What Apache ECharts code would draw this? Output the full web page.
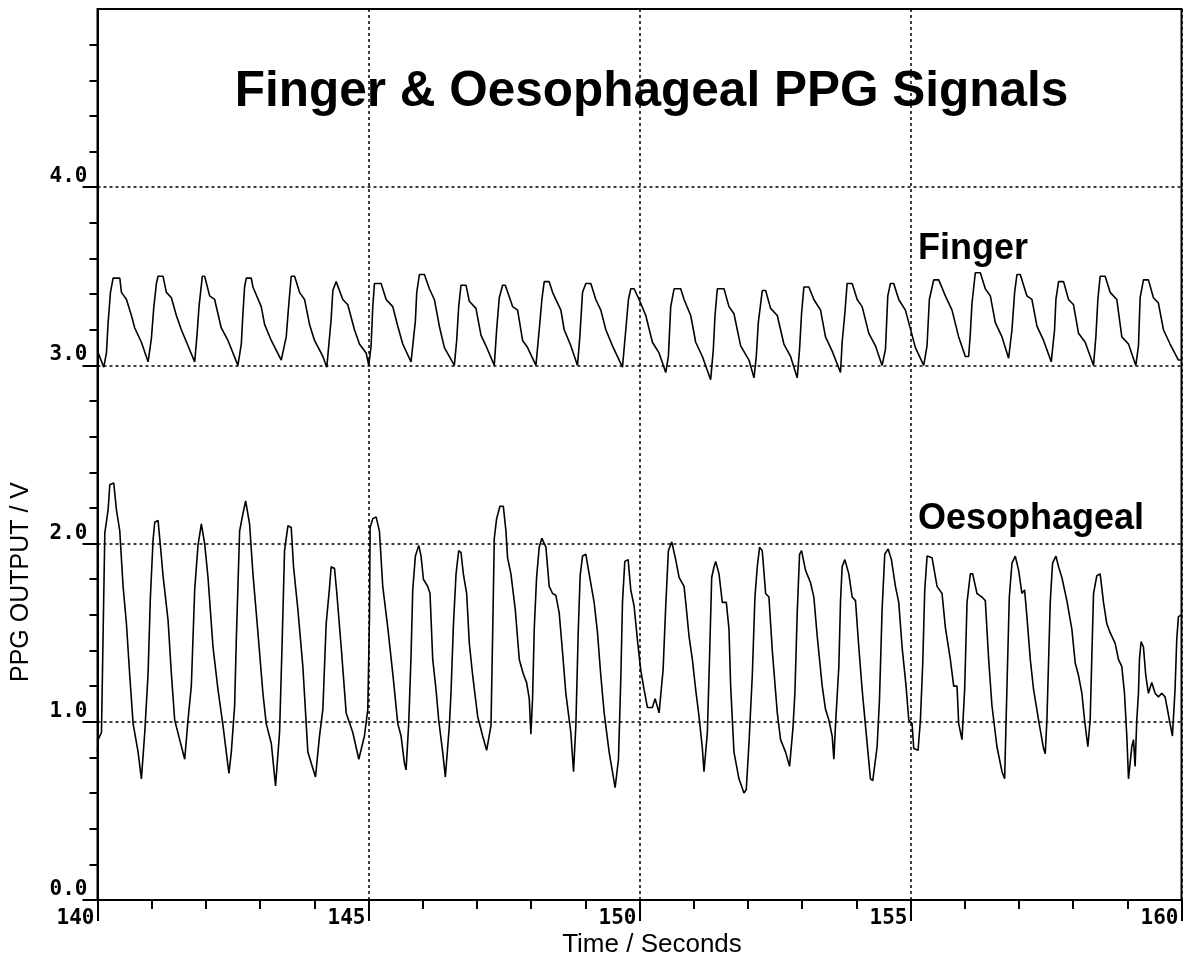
<!DOCTYPE html>
<html>
<head>
<meta charset="utf-8">
<script src="https://cdn.jsdelivr.net/npm/echarts@6/dist/echarts.min.js"></script>
<style>
  html, body { margin: 0; padding: 0; background: #fff; }
  #chart { width: 1188px; height: 958px; }
</style>
</head>
<body>
<div id="chart"></div>
<script>
// axis ranges
const xRange = [140, 160]
const yRange = [0, 5]
// labelled y ticks (the top of the frame carries none)
const yTicks = [0, 1, 2, 3, 4]

// finger PPG trace, [time (s), output (V)]
const fingerSignal = [
  [140.000, 3.08], [140.116, 2.99], [140.165, 3.07], [140.196, 3.24], [140.239, 3.41], [140.288, 3.49], [140.411, 3.49], [140.442, 3.41], [140.534, 3.37], [140.626, 3.28], [140.687, 3.21], [140.810, 3.13], [140.933, 3.02], [140.964, 3.02],
  [140.994, 3.15], [141.037, 3.32], [141.087, 3.46], [141.117, 3.50], [141.209, 3.50], [141.271, 3.41], [141.363, 3.38], [141.455, 3.28], [141.547, 3.20], [141.670, 3.11], [141.793, 3.02],
  [141.836, 3.17], [141.873, 3.33], [141.934, 3.50], [141.977, 3.50], [142.069, 3.39], [142.161, 3.37], [142.284, 3.21], [142.407, 3.14], [142.591, 3.00],
  [142.653, 3.12], [142.683, 3.29], [142.714, 3.44], [142.745, 3.49], [142.837, 3.49], [142.868, 3.44], [143.021, 3.33], [143.083, 3.23], [143.206, 3.14], [143.390, 3.03], [143.420, 3.02],
  [143.482, 3.16], [143.531, 3.35], [143.574, 3.50], [143.636, 3.50], [143.728, 3.41], [143.820, 3.37], [143.912, 3.23], [144.004, 3.14], [144.158, 3.05], [144.231, 2.99],
  [144.311, 3.26], [144.342, 3.42], [144.403, 3.47], [144.526, 3.37], [144.618, 3.34], [144.741, 3.20], [144.833, 3.12], [144.956, 3.07], [145.005, 3.00],
  [145.048, 3.11], [145.079, 3.33], [145.110, 3.46], [145.233, 3.46], [145.325, 3.37], [145.448, 3.33], [145.540, 3.22], [145.632, 3.12], [145.785, 3.02],
  [145.865, 3.25], [145.890, 3.41], [145.939, 3.51], [146.031, 3.51], [146.123, 3.43], [146.215, 3.37], [146.307, 3.22], [146.400, 3.10], [146.584, 3.00],
  [146.627, 3.14], [146.664, 3.33], [146.707, 3.45], [146.799, 3.45], [146.860, 3.36], [146.983, 3.32], [147.075, 3.17], [147.167, 3.11], [147.321, 3.00],
  [147.364, 3.20], [147.413, 3.38], [147.474, 3.45], [147.524, 3.45], [147.659, 3.33], [147.751, 3.31], [147.843, 3.14], [147.935, 3.10], [148.089, 3.00],
  [148.150, 3.20], [148.199, 3.37], [148.242, 3.47], [148.334, 3.47], [148.396, 3.41], [148.549, 3.31], [148.611, 3.20], [148.733, 3.11], [148.856, 3.00],
  [148.899, 3.16], [148.949, 3.41], [149.010, 3.46], [149.102, 3.46], [149.194, 3.37], [149.286, 3.31], [149.379, 3.20], [149.501, 3.11], [149.686, 2.99],
  [149.747, 3.20], [149.796, 3.37], [149.839, 3.43], [149.900, 3.43], [149.993, 3.37], [150.116, 3.28], [150.238, 3.13], [150.361, 3.07], [150.484, 2.96],
  [150.533, 3.05], [150.576, 3.33], [150.638, 3.43], [150.760, 3.43], [150.822, 3.37], [150.945, 3.28], [151.037, 3.13], [151.160, 3.05], [151.313, 2.92],
  [151.362, 3.09], [151.393, 3.28], [151.436, 3.43], [151.559, 3.43], [151.651, 3.33], [151.743, 3.29], [151.866, 3.11], [152.020, 3.03], [152.112, 2.93],
  [152.155, 3.05], [152.192, 3.24], [152.265, 3.42], [152.327, 3.42], [152.419, 3.32], [152.542, 3.28], [152.664, 3.12], [152.787, 3.05], [152.910, 2.93],
  [152.953, 3.09], [152.990, 3.29], [153.033, 3.44], [153.125, 3.44], [153.217, 3.37], [153.340, 3.31], [153.432, 3.16], [153.555, 3.08], [153.709, 2.96],
  [153.739, 3.13], [153.788, 3.29], [153.831, 3.46], [153.924, 3.46], [154.016, 3.37], [154.108, 3.33], [154.231, 3.18], [154.353, 3.11], [154.476, 3.00],
  [154.538, 3.09], [154.581, 3.39], [154.630, 3.46], [154.691, 3.46], [154.783, 3.37], [154.906, 3.31], [154.968, 3.24], [155.090, 3.10], [155.244, 3.00],
  [155.305, 3.11], [155.348, 3.37], [155.428, 3.48], [155.521, 3.48], [155.643, 3.39], [155.766, 3.31], [155.889, 3.16], [156.012, 3.05], [156.073, 3.05],
  [156.104, 3.18], [156.135, 3.35], [156.196, 3.52], [156.288, 3.52], [156.380, 3.43], [156.473, 3.39], [156.565, 3.24], [156.688, 3.16], [156.810, 3.04],
  [156.872, 3.20], [156.921, 3.41], [156.964, 3.51], [157.025, 3.51], [157.148, 3.39], [157.240, 3.37], [157.333, 3.22], [157.455, 3.14], [157.597, 3.02],
  [157.658, 3.20], [157.683, 3.37], [157.732, 3.47], [157.824, 3.47], [157.916, 3.37], [158.008, 3.34], [158.100, 3.18], [158.223, 3.13], [158.377, 3.00],
  [158.420, 3.16], [158.457, 3.37], [158.499, 3.50], [158.591, 3.50], [158.684, 3.41], [158.806, 3.37], [158.899, 3.16], [159.022, 3.12], [159.157, 3.00],
  [159.206, 3.11], [159.237, 3.38], [159.298, 3.48], [159.390, 3.48], [159.482, 3.38], [159.574, 3.35], [159.667, 3.20], [159.789, 3.12], [159.943, 3.03], [160.000, 3.03]
]

// oesophageal PPG trace, [time (s), output (V)]
const oesoSignal = [
  [140.000, 0.83], [140.012, 0.90], [140.073, 0.94], [140.104, 1.50], [140.135, 2.06], [140.196, 2.19], [140.227, 2.33], [140.300, 2.34], [140.349, 2.19], [140.411, 2.07], [140.472, 1.76], [140.534, 1.55], [140.595, 1.26], [140.657, 0.99], [140.749, 0.83], [140.810, 0.68],
  [140.872, 0.94], [140.933, 1.27], [140.976, 1.70], [141.025, 2.02], [141.056, 2.12], [141.117, 2.13], [141.160, 1.99], [141.209, 1.82], [141.302, 1.57], [141.363, 1.27], [141.424, 1.01], [141.516, 0.90], [141.609, 0.79],
  [141.670, 1.01], [141.731, 1.20], [141.793, 1.74], [141.854, 1.99], [141.916, 2.11], [141.977, 2.00], [142.039, 1.81], [142.131, 1.42], [142.223, 1.18], [142.315, 0.98], [142.425, 0.71],
  [142.469, 0.83], [142.530, 1.09], [142.561, 1.46], [142.622, 2.07], [142.684, 2.17], [142.733, 2.24], [142.806, 2.11], [142.868, 1.83], [142.960, 1.50], [143.052, 1.16], [143.113, 0.99], [143.206, 0.88], [143.285, 0.64],
  [143.359, 0.94], [143.408, 1.46], [143.451, 1.96], [143.513, 2.10], [143.574, 2.09], [143.617, 1.87], [143.697, 1.63], [143.789, 1.31], [143.881, 0.83], [143.961, 0.75], [144.022, 0.69],
  [144.096, 0.92], [144.158, 1.07], [144.219, 1.55], [144.280, 1.75], [144.311, 1.87], [144.373, 1.86], [144.416, 1.72], [144.496, 1.42], [144.588, 1.05], [144.710, 0.94], [144.821, 0.79],
  [144.925, 0.92], [144.987, 1.07], [145.018, 1.59], [145.030, 2.09], [145.079, 2.14], [145.140, 2.15], [145.202, 2.07], [145.263, 1.76], [145.355, 1.53], [145.448, 1.27], [145.540, 0.99], [145.601, 0.92], [145.662, 0.77], [145.693, 0.73],
  [145.742, 0.99], [145.785, 1.37], [145.816, 1.74], [145.865, 1.93], [145.927, 1.99], [145.970, 1.93], [146.013, 1.80], [146.092, 1.76], [146.135, 1.72], [146.185, 1.35], [146.246, 1.18], [146.295, 1.01], [146.369, 0.83], [146.418, 0.69],
  [146.492, 0.98], [146.522, 1.16], [146.565, 1.53], [146.615, 1.83], [146.664, 1.96], [146.707, 1.95], [146.750, 1.83], [146.811, 1.72], [146.860, 1.44], [146.922, 1.26], [147.014, 1.03], [147.106, 0.92], [147.180, 0.84],
  [147.260, 0.98], [147.290, 1.48], [147.321, 2.03], [147.364, 2.14], [147.425, 2.21], [147.487, 2.21], [147.536, 2.07], [147.566, 1.92], [147.628, 1.83], [147.708, 1.63], [147.782, 1.35], [147.855, 1.27], [147.917, 1.22], [147.966, 1.13], [147.996, 0.93],
  [148.027, 1.13], [148.058, 1.52], [148.101, 1.81], [148.150, 1.98], [148.199, 2.03], [148.273, 1.98], [148.334, 1.76], [148.396, 1.72], [148.457, 1.71], [148.519, 1.61], [148.580, 1.39], [148.641, 1.16], [148.733, 0.94], [148.783, 0.72],
  [148.826, 0.98], [148.869, 1.50], [148.905, 1.82], [148.949, 1.93], [149.010, 1.94], [149.071, 1.83], [149.163, 1.67], [149.225, 1.50], [149.286, 1.26], [149.348, 1.05], [149.440, 0.83], [149.550, 0.63],
  [149.612, 0.79], [149.655, 1.24], [149.686, 1.67], [149.729, 1.90], [149.790, 1.91], [149.839, 1.74], [149.900, 1.65], [149.962, 1.46], [150.023, 1.29], [150.085, 1.18], [150.146, 1.08], [150.238, 1.08], [150.288, 1.13], [150.361, 1.05], [150.392, 1.04],
  [150.435, 1.29], [150.484, 1.65], [150.533, 1.96], [150.595, 2.01], [150.668, 1.91], [150.730, 1.81], [150.822, 1.76], [150.853, 1.67], [150.914, 1.48], [150.975, 1.35], [151.037, 1.18], [151.098, 1.03], [151.160, 0.85], [151.190, 0.72],
  [151.252, 0.94], [151.295, 1.39], [151.332, 1.81], [151.375, 1.87], [151.405, 1.90], [151.467, 1.83], [151.528, 1.67], [151.602, 1.67], [151.651, 1.52], [151.682, 1.20], [151.743, 0.83], [151.835, 0.68], [151.927, 0.60], [151.970, 0.62],
  [152.020, 0.88], [152.081, 1.26], [152.130, 1.70], [152.173, 1.87], [152.216, 1.98], [152.265, 1.96], [152.327, 1.72], [152.388, 1.70], [152.450, 1.40], [152.542, 1.05], [152.603, 0.90], [152.695, 0.83], [152.769, 0.75],
  [152.830, 0.96], [152.867, 1.16], [152.910, 1.61], [152.953, 1.94], [152.990, 1.96], [153.064, 1.85], [153.156, 1.78], [153.217, 1.70], [153.279, 1.48], [153.371, 1.20], [153.432, 1.07], [153.494, 1.01], [153.555, 0.92], [153.586, 0.79],
  [153.616, 0.98], [153.678, 1.31], [153.709, 1.68], [153.739, 1.87], [153.788, 1.91], [153.862, 1.83], [153.924, 1.70], [153.985, 1.68], [154.046, 1.42], [154.108, 1.18], [154.169, 0.98], [154.261, 0.68], [154.304, 0.67],
  [154.384, 0.86], [154.427, 1.12], [154.476, 1.63], [154.525, 1.94], [154.587, 1.97], [154.648, 1.91], [154.722, 1.76], [154.783, 1.67], [154.845, 1.42], [154.918, 1.20], [154.968, 1.01], [155.029, 0.99], [155.060, 0.85], [155.140, 0.84],
  [155.183, 1.01], [155.226, 1.33], [155.263, 1.74], [155.306, 1.93], [155.398, 1.92], [155.490, 1.76], [155.582, 1.72], [155.643, 1.53], [155.735, 1.35], [155.797, 1.20], [155.858, 1.20], [155.889, 0.99], [155.950, 0.90],
  [155.999, 1.18], [156.043, 1.67], [156.104, 1.83], [156.147, 1.83], [156.227, 1.72], [156.319, 1.70], [156.380, 1.68], [156.442, 1.35], [156.503, 1.09], [156.595, 0.86], [156.688, 0.72], [156.737, 0.68],
  [156.780, 1.20], [156.823, 1.70], [156.872, 1.89], [156.933, 1.93], [156.995, 1.85], [157.056, 1.72], [157.105, 1.74], [157.148, 1.59], [157.210, 1.35], [157.271, 1.18], [157.363, 1.01], [157.455, 0.85], [157.486, 0.82],
  [157.517, 1.01], [157.578, 1.67], [157.621, 1.89], [157.683, 1.93], [157.732, 1.87], [157.793, 1.81], [157.885, 1.68], [157.977, 1.52], [158.039, 1.33], [158.100, 1.26], [158.162, 1.16], [158.211, 1.01], [158.272, 0.86],
  [158.315, 1.01], [158.346, 1.37], [158.377, 1.72], [158.438, 1.82], [158.499, 1.83], [158.561, 1.67], [158.622, 1.55], [158.684, 1.50], [158.776, 1.44], [158.837, 1.35], [158.899, 1.31], [158.948, 1.16], [158.991, 0.92], [159.022, 0.68],
  [159.083, 0.86], [159.114, 0.90], [159.144, 0.75], [159.175, 1.01], [159.206, 1.16], [159.224, 1.35], [159.255, 1.45], [159.298, 1.42], [159.341, 1.26], [159.390, 1.16], [159.451, 1.22], [159.513, 1.16], [159.574, 1.14], [159.636, 1.16], [159.697, 1.14], [159.728, 1.09], [159.789, 0.99], [159.832, 0.92], [159.881, 1.18], [159.912, 1.46], [159.943, 1.59], [160.000, 1.60]
]

const titleText = 'Finger & Oesophageal PPG Signals'
const xName = 'Time / Seconds'
const yName = 'PPG OUTPUT / V'

const ink = '#000'
const sans = '"Liberation Sans", Arial, sans-serif'
const tickFont = { fontFamily: '"DejaVu Sans Mono", monospace', fontWeight: 'bold', fontSize: 21, color: ink }
const dotted = { color: ink, width: 1.5, type: [3, 3] }

const chart = echarts.init(document.getElementById('chart'), null, { renderer: 'canvas' })

chart.setOption({
  animation: false,
  backgroundColor: '#fff',
  grid: { left: 97.5, right: 6.5, top: 9, bottom: 58, show: true, borderColor: ink, borderWidth: 2, backgroundColor: 'transparent' },
  xAxis: {
    type: 'value',
    min: xRange[0],
    max: xRange[1],
    interval: 5,
    axisLine: { onZero: false, lineStyle: { color: ink, width: 2 } },
    axisTick: { length: 21, lineStyle: { color: ink, width: 2 } },
    minorTick: { show: true, splitNumber: 5, length: 9, lineStyle: { color: ink, width: 2 } },
    axisLabel: { ...tickFont, align: 'right', margin: 8, padding: [0, 3, 0, 0] },
    splitLine: { show: true, lineStyle: dotted }
  },
  yAxis: {
    type: 'value',
    min: yRange[0],
    max: yRange[1],
    interval: 1,
    axisLine: { onZero: false, lineStyle: { color: ink, width: 2 } },
    axisTick: { length: 15, customValues: yTicks, lineStyle: { color: ink, width: 2 } },
    minorTick: { show: true, splitNumber: 5, length: 8, lineStyle: { color: ink, width: 2 } },
    axisLabel: { ...tickFont, verticalAlign: 'bottom', margin: 10, formatter: v => (v === yRange[1] ? '' : v.toFixed(1)) },
    splitLine: { show: true, lineStyle: dotted }
  },
  series: [
    {
      name: 'Finger',
      type: 'line',
      data: fingerSignal,
      showSymbol: false,
      lineStyle: { color: ink, width: 1.6 },
      z: 3
    },
    {
      name: 'Oesophageal',
      type: 'line',
      data: oesoSignal,
      showSymbol: false,
      lineStyle: { color: ink, width: 1.6 },
      z: 3
    }
  ],
  graphic: [
    { type: 'text', x: 651.5, y: 92, style: { text: titleText, fontFamily: sans, fontWeight: 'bold', fontSize: 49.5, fill: ink, align: 'center', verticalAlign: 'middle' } },
    { type: 'text', x: 918, y: 249, style: { text: 'Finger', fontFamily: sans, fontWeight: 'bold', fontSize: 36, fill: ink, align: 'left', verticalAlign: 'middle' } },
    { type: 'text', x: 918, y: 519, style: { text: 'Oesophageal', fontFamily: sans, fontWeight: 'bold', fontSize: 36, fill: ink, align: 'left', verticalAlign: 'middle' } },
    { type: 'text', x: 652, y: 945, style: { text: xName, fontFamily: sans, fontSize: 26, fill: ink, align: 'center', verticalAlign: 'middle' } },
    { type: 'text', x: 21, y: 582, rotation: Math.PI / 2, style: { text: yName, fontFamily: sans, fontSize: 25, fill: ink, align: 'center', verticalAlign: 'middle' } }
  ]
})
</script>
</body>
</html>
